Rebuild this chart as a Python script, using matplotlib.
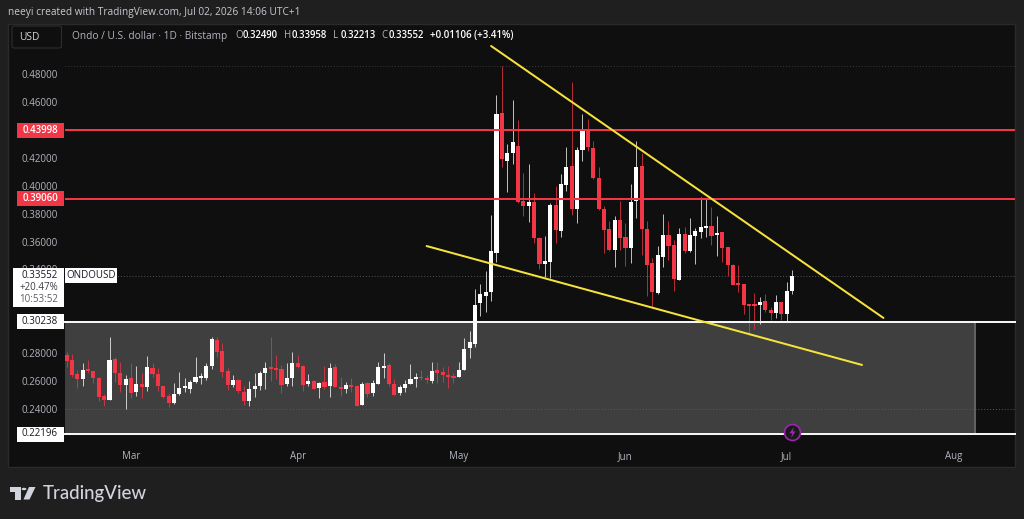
import numpy as np
import matplotlib
matplotlib.use('Agg')
import matplotlib.pyplot as plt
import matplotlib.dates as mdates
from matplotlib.patches import Rectangle, Polygon, Circle, FancyBboxPatch
from matplotlib.transforms import blended_transform_factory

# daily candles, Feb 17 to Jul 2
start_date = '2026-02-17'
opens = [
    .2786, .2751, .2648, .2614, .2679, .2672, .2622, .2493, .2466, .2755,
    .2660, .2574, .2622, .2521, .2579, .2557, .2693, .2650, .2562, .2490,
    .2440, .2504, .2550, .2540, .2591, .2622, .2624, .2710, .2894, .2815,
    .2672, .2574, .2607, .2524, .2454, .2545, .2562, .2655, .2693, .2693,
    .2686, .2579, .2619, .2729, .2705, .2579, .2602, .2552, .2593, .2562,
    .2698, .2557, .2543, .2569, .2562, .2430, .2583, .2512, .2581, .2693,
    .2717, .2581, .2514, .2552, .2581, .2614, .2629, .2622, .2598, .2681,
    .2665, .2643, .2638, .2626, .2679, .2837, .2865, .3160, .3211, .3239,
    .3521, .4523, .4176, .4233, .4284, .3892, .3853, .3885, .3629, .3442,
    .3452, .3863, .3677, .4009, .4143, .3832, .4260, .4398, .4269, .4054,
    .3832, .3689, .3540, .3758, .3634, .3554, .3893, .4142, .3693, .3444,
    .3234, .3489, .3647, .3578, .3327, .3654, .3532, .3642, .3669, .3697,
    .3712, .3647, .3666, .3559, .3434, .3296, .3293, .3150, .3145, .3143,
    .3174, .3107, .3088, .3164, .3081, .32490,
]
highs = [
    .2806, .2794, .2679, .2727, .2751, .2672, .2626, .2507, .2918, .2775,
    .2734, .2641, .2727, .2708, .2655, .2779, .2732, .2696, .2564, .2512,
    .2583, .2662, .2622, .2607, .2775, .2655, .2732, .2913, .2918, .2870,
    .2691, .2643, .2612, .2564, .2602, .2655, .2674, .2736, .2913, .2786,
    .2715, .2727, .2806, .2786, .2715, .2648, .2607, .2593, .2708, .2727,
    .2719, .2631, .2593, .2622, .2569, .2593, .2595, .2605, .2734, .2798,
    .2727, .2612, .2571, .2607, .2722, .2655, .2679, .2643, .2736, .2736,
    .2703, .2708, .2655, .2739, .2906, .2958, .3263, .3294, .3390, .3791,
    .4652, .4859, .4300, .4616, .4472, .4095, .4155, .3947, .3636, .3643,
    .3875, .3999, .4085, .4279, .4743, .4277, .4516, .4477, .4322, .4133,
    .3856, .3744, .3784, .3892, .3732, .4010, .4324, .4237, .3745, .3480,
    .3568, .3795, .3750, .3611, .3695, .3702, .3767, .3695, .3917, .3910,
    .3846, .3783, .3666, .3559, .3437, .3434, .3293, .3152, .3229, .3205,
    .3227, .3129, .3217, .3167, .3308, .33958,
]
lows = [
    .2703, .2626, .2552, .2567, .2655, .2583, .2459, .2421, .2464, .2593,
    .2524, .2397, .2478, .2495, .2476, .2531, .2631, .2531, .2478, .2414,
    .2438, .2497, .2521, .2516, .2583, .2581, .2607, .2686, .2775, .2626,
    .2535, .2560, .2516, .2430, .2421, .2483, .2535, .2545, .2600, .2612,
    .2516, .2564, .2567, .2691, .2531, .2567, .2540, .2476, .2545, .2483,
    .2557, .2493, .2512, .2521, .2421, .2428, .2483, .2495, .2579, .2622,
    .2564, .2500, .2500, .2521, .2581, .2560, .2607, .2583, .2588, .2583,
    .2591, .2547, .2588, .2626, .2679, .2767, .2846, .3067, .3096, .3177,
    .3450, .4133, .3959, .4157, .3880, .3787, .3741, .3593, .3404, .3344,
    .3337, .3588, .3636, .3961, .3791, .3736, .4181, .4248, .4047, .3827,
    .3519, .3533, .3416, .3540, .3426, .3449, .3767, .3501, .3212, .3133,
    .3224, .3420, .3468, .3248, .3324, .3520, .3528, .3439, .3628, .3630,
    .3575, .3499, .3454, .3353, .3289, .3241, .3078, .2930, .2971, .3009,
    .3093, .3040, .3050, .3038, .3026, .32213,
]
closes = [
    .2744, .2643, .2614, .2677, .2672, .2622, .2485, .2464, .2751, .2660,
    .2571, .2614, .2516, .2579, .2557, .2698, .2648, .2562, .2485, .2440,
    .2507, .2550, .2562, .2595, .2631, .2629, .2705, .2901, .2810, .2667,
    .2571, .2607, .2526, .2457, .2545, .2562, .2655, .2691, .2686, .2681,
    .2574, .2619, .2729, .2698, .2574, .2598, .2545, .2583, .2560, .2696,
    .2560, .2543, .2569, .2560, .2423, .2576, .2507, .2586, .2700, .2708,
    .2581, .2502, .2557, .2581, .2612, .2626, .2619, .2610, .2674, .2660,
    .2645, .2631, .2624, .2679, .2829, .2877, .3148, .3223, .3239, .3531,
    .4518, .4190, .4233, .4315, .3885, .3856, .3885, .3629, .3440, .3459,
    .3865, .3686, .4014, .4138, .3834, .4257, .4398, .4277, .4054, .3832,
    .3681, .3538, .3753, .3629, .3557, .3881, .4135, .3693, .3432, .3241,
    .3501, .3647, .3571, .3334, .3654, .3532, .3647, .3676, .3705, .3705,
    .3640, .3661, .3556, .3432, .3291, .3289, .3145, .3138, .3140, .3167,
    .3107, .3088, .3167, .3078, .3246, .33552,
]

# horizontal levels
red_levels = [0.43998, 0.39060]
white_levels = [0.30238, 0.22196]
last_price = 0.33552
high_level = 0.4859
grid_level = 0.24

# trend lines
upper_dates = ['2026-05-07', '2026-07-19']
upper_prices = [0.5003, 0.3052]
lower_dates = ['2026-04-25', '2026-07-15']
lower_prices = [0.3568, 0.2715]

box_end = '2026-08-05'
month_ticks = ['2026-03-01', '2026-04-01', '2026-05-01', '2026-06-01', '2026-07-01', '2026-08-01']
price_ticks = [0.24, 0.26, 0.28, 0.34, 0.36, 0.38, 0.40, 0.42, 0.46, 0.48]

UP = '#ffffff'
DOWN = '#f23645'
BG = '#0f0f0f'
FRAME = '#1f1f1f'
TXT = '#b2b5be'
W, H = 1024, 519
PX_PER_UNIT = 1394

plt.rcParams['font.family'] = ['Open Sans', 'DejaVu Sans']

fig = plt.figure(figsize=(W / 100, H / 100), dpi=100, facecolor=FRAME)


def px(x, y):
    # pixel position, origin top left, to figure fraction
    return x / W, 1 - y / H


def fig_text(x, y, s, **kw):
    fig.text(*px(x, y), s, va='center', **kw)


panel = Rectangle(px(8, 467), 1007 / W, 443 / H, transform=fig.transFigure,
                  fc=BG, ec='#2a2a2a', lw=1, zorder=-2)
fig.add_artist(panel)

ax = fig.add_axes([65 / W, 1 - 434 / H, 950 / W, 410 / H], facecolor='none')
for s in ax.spines.values():
    s.set_visible(False)

dates = mdates.datestr2num(start_date) + np.arange(len(opens))
mar1 = mdates.datestr2num('2026-03-01')
ax.set_xlim(mar1 - 12.28, mar1 + 164.47)
ax.set_ylim(0.22196, 0.22196 + 410 / PX_PER_UNIT)

ax.set_yticks(price_ticks)
ax.set_yticklabels([f'{p:.5f}' for p in price_ticks])
ax.set_xticks(mdates.datestr2num(month_ticks))
ax.xaxis.set_major_formatter(mdates.DateFormatter('%b'))
ax.tick_params(axis='y', length=0, pad=5, labelsize=7, labelcolor=TXT)
ax.tick_params(axis='x', length=0, pad=12, labelsize=7, labelcolor=TXT)

# shaded zone between the two white levels
ax.add_patch(Rectangle((dates[0] - 0.72, white_levels[1]),
                       mdates.datestr2num(box_end) - dates[0] + 0.72,
                       white_levels[0] - white_levels[1],
                       fc='#3f3f3f', ec='none', zorder=1))
ax.vlines(mdates.datestr2num(box_end), white_levels[1], white_levels[0],
          color='#636363', lw=1.4, zorder=1.2)

# dotted lines
dot = (0, (1, 2))
ax.axhline(grid_level, color='#5a5a5a', lw=0.7, ls=dot, zorder=1.5)
ax.axhline(last_price, color='#555555', lw=0.7, ls=dot, zorder=1.5)
ax.axhline(high_level, color='#3a3a3a', lw=0.7, ls=dot, zorder=1.5)

# candles
o = np.array(opens)
c = np.array(closes)
colors = [UP if b >= a else DOWN for a, b in zip(o, c)]
ax.vlines(dates, lows, highs, colors=colors, lw=0.72, alpha=0.72, zorder=3)
ax.bar(dates, np.maximum(np.abs(c - o), 0.0012), bottom=np.minimum(o, c),
       width=0.78, color=colors, linewidth=0, zorder=3.2)

for p in red_levels:
    ax.axhline(p, color=DOWN, lw=1.45, zorder=4)
for p in white_levels:
    ax.axhline(p, color='#f4f4f4', lw=1.45, zorder=4, clip_on=False)

for ds, ps in [(upper_dates, upper_prices), (lower_dates, lower_prices)]:
    ax.plot(mdates.datestr2num(ds), ps, color='#f5e23c', lw=1.45, zorder=5,
            solid_capstyle='round', clip_on=False)

# lightning marker on the bottom line
bolt_x = dates[-1]
bolt_y = 0.2234
ax.plot([bolt_x], [bolt_y], 'o', ms=11.5, mfc='#1a1a1a', mec='#9c27b0', mew=1.2,
        zorder=6, clip_on=False)
bolt = [(0.25, 1), (-0.55, -0.15), (-0.05, -0.15), (-0.25, -1), (0.55, 0.2), (0.05, 0.2)]
ax.plot([bolt_x], [bolt_y], marker=bolt, ms=8, mfc='#9c27b0', mec='none',
        zorder=7, clip_on=False)

# price tags left of the axis
tr = blended_transform_factory(ax.transAxes, ax.transData)


def price_tag(price, fc, tc, weight='normal'):
    ax.add_patch(Rectangle((-48 / 950, price - 7.5 / PX_PER_UNIT), 47 / 950, 15 / PX_PER_UNIT,
                           transform=tr, fc=fc, ec='none', clip_on=False, zorder=20))
    ax.text(-7 / 950, price, f'{price:.5f}', transform=tr, ha='right', va='center',
            fontsize=7, color=tc, fontweight=weight, clip_on=False, zorder=21)


for p in red_levels:
    price_tag(p, DOWN, '#ffffff', weight='semibold')
for p in white_levels:
    price_tag(p, '#ffffff', '#131722')

# last price tag block
fig.add_artist(Rectangle(px(13, 307), 51 / W, 39 / H, transform=fig.transFigure,
                         fc='#ffffff', ec='none', zorder=20))
fig_text(58, 276, f'{last_price:.5f}', ha='right', fontsize=7, color='#131722', zorder=21)
fig_text(58, 288, '+20.47%', ha='right', fontsize=7, color='#3a3d45', zorder=21)
fig_text(58, 300, '10:53:52', ha='right', fontsize=7, color='#5a5d65', zorder=21)
fig.add_artist(Rectangle(px(65, 283), 52 / W, 15 / H, transform=fig.transFigure,
                         fc='#ffffff', ec='none', zorder=20))
fig_text(91, 276, 'ONDOUSD', ha='center', fontsize=7, color='#131722', zorder=21)

# header
fig_text(8, 13, 'neeyi created with TradingView.com, Jul 02, 2026 14:06 UTC+1',
         fontsize=7.3, color='#c8cad0')
usd = FancyBboxPatch(px(12, 48), 49.5 / W, 22 / H, transform=fig.transFigure,
                     boxstyle='round,pad=0,rounding_size=0.003',
                     fc=BG, ec='#2e2e2e', lw=0.8, zorder=5)
fig.add_artist(usd)
fig_text(29, 37.5, 'USD', ha='center', fontsize=7.3, color='#d1d4dc', zorder=6)
fig_text(72, 36, 'Ondo / U.S. dollar · 1D · Bitstamp', fontsize=7.3, color=TXT)

ohlc_labels = ['O', 'H', 'L', 'C']
ohlc_values = [opens[-1], highs[-1], lows[-1], closes[-1]]
for lab, val, x0 in zip(ohlc_labels, ohlc_values, [235, 284, 333, 381]):
    fig_text(x0, 36, lab, fontsize=7, color=TXT)
    fig_text(x0 + 7.5, 36, f'{val:.5f}', fontsize=6.9, color='#ffffff', fontweight='semibold')
fig_text(430, 36, '+0.01106 (+3.41%)', fontsize=7, color='#ffffff', fontweight='semibold')

# TradingView logo
logo = '#d1d4dc'
fig.add_artist(Polygon([px(10, 487), px(20.5, 487), px(20.5, 499.5), px(15, 499.5),
                        px(15, 492), px(10, 492)], closed=True,
                       transform=fig.transFigure, fc=logo, ec='none'))
fig.add_artist(Circle((24 / W, 1 - 489 / H), 2.4 / W, transform=fig.transFigure, fc=logo, ec='none'))
fig.add_artist(Polygon([px(29, 487), px(35.5, 487), px(29.5, 499.5), px(23.5, 499.5)],
                       closed=True, transform=fig.transFigure, fc=logo, ec='none'))
fig_text(43, 493, 'TradingView', fontsize=13.4, color=logo, family=['Lato', 'DejaVu Sans'],
         fontweight='medium')

fig.savefig('out.png', dpi=100, facecolor=fig.get_facecolor())
